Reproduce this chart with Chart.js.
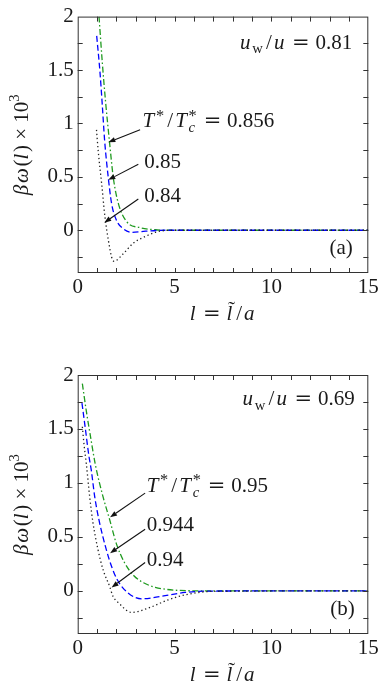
<!DOCTYPE html>
<html>
<head>
<meta charset="utf-8">
<script src="https://cdn.jsdelivr.net/npm/chart.js@4/dist/chart.umd.min.js"></script>
<style>
html,body{margin:0;padding:0;background:#fff;}
#wrap{position:relative;width:382px;height:690px;overflow:hidden;}
canvas{position:absolute;left:0;}
#c1{top:0;}
#c2{top:330px;}
</style>
</head>
<body>
<div id="wrap">
<canvas id="c1" width="382" height="330"></canvas>
<canvas id="c2" width="382" height="360"></canvas>
</div>
<script>
// ---------- data ----------
const xTicks = [0, 5, 10, 15];
const yTicks = [0, 0.5, 1, 1.5, 2];

// panel (a): u_w/u = 0.81
const aRatio = '0.81';
const aLabels = ['0.856', '0.85', '0.84'];
const aX_0856 = [1.1, 1.27, 1.44, 1.64, 1.84, 2.1, 2.53, 3.22, 4.0, 5.0, 15];
const aY_0856 = [2.0, 1.57, 1.2, 0.83, 0.49, 0.25, 0.08, 0.025, 0.005, 0, 0];
const aX_085  = [0.98, 1.15, 1.27, 1.39, 1.58, 1.75, 2.01, 2.35, 2.8, 3.4, 4.5, 15];
const aY_085  = [1.82, 1.48, 1.17, 0.84, 0.49, 0.25, 0.09, 0.015, -0.02, -0.01, 0, 0];
const aX_084  = [0.97, 1.06, 1.24, 1.41, 1.58, 1.75, 1.87, 2.35, 2.87, 3.47, 4.08, 5, 15];
const aY_084  = [0.94, 0.74, 0.43, 0.12, -0.09, -0.25, -0.29, -0.22, -0.12, -0.06, -0.015, 0, 0];

// panel (b): u_w/u = 0.69
const bRatio = '0.69';
const bLabels = ['0.95', '0.944', '0.94'];
const bX_095  = [0.24, 0.45, 0.67, 0.91, 1.31, 1.65, 1.99, 2.42, 2.9, 3.4, 4.0, 5.2, 6.5, 15];
const bY_095  = [1.92, 1.66, 1.42, 1.17, 0.87, 0.66, 0.44, 0.26, 0.14, 0.075, 0.033, 0.004, 0, 0];
const bX_0944 = [0.22, 0.39, 0.57, 0.70, 0.88, 1.13, 1.48, 1.74, 2.05, 2.6, 3.3, 4.34, 5.54, 7, 15];
const bY_0944 = [1.74, 1.51, 1.26, 1.12, 0.87, 0.63, 0.38, 0.23, 0.10, -0.02, -0.074, -0.05, -0.015, -0.002, 0];
const bX_094  = [0.24, 0.33, 0.45, 0.62, 0.79, 1.05, 1.31, 1.65, 1.82, 2.1, 2.79, 3.64, 4.68, 5.54, 7, 15];
const bY_094  = [1.52, 1.35, 1.17, 0.87, 0.63, 0.38, 0.195, 0.04, -0.05, -0.11, -0.2, -0.16, -0.083, -0.037, -0.005, 0];

// ---------- styling ----------
const FAM = '"Liberation Serif", "DejaVu Serif", serif';
const EQFAM = '"DejaVu Serif", serif';
const FS = 21;
const TXT = '#1a1a1a';
const GREEN = '#1f9a1f', BLUE = '#0000ff', BLACK = '#222222';
const STY = [
  {color: GREEN, dash: [6, 2.5, 1.5, 2.5]},
  {color: BLUE,  dash: [6, 3]},
  {color: BLACK, dash: [1.3, 2.7]}
];

function pts(xs, ys) { return xs.map((x, i) => ({x: x, y: ys[i]})); }

// ---------- rich text ----------
function fnt(it, px, fam) { return (it ? 'italic ' : '') + px + 'px ' + (fam || FAM); }
function segW(ctx, s, size) {
  if (s.stack) {
    ctx.font = fnt(true, size * 0.7); const w1 = ctx.measureText(s.stack.sub).width;
    ctx.font = fnt(false, size * 0.78); const w2 = ctx.measureText(s.stack.sup).width;
    return Math.max(w1, w2) + 1;
  }
  const px = (s.sub || s.sup) ? size * (s.t === '*' ? 0.78 : 0.7) : size;
  ctx.font = fnt(s.it, px, s.fam);
  return ctx.measureText(s.t).width + ((s.gap || 0) + (s.pre || 0)) * size;
}
function drawRich(ctx, segs, x, y, align, size) {
  size = size || FS;
  let total = 0;
  segs.forEach(s => total += segW(ctx, s, size));
  let cx = align === 'right' ? x - total : (align === 'center' ? x - total / 2 : x);
  ctx.fillStyle = TXT;
  ctx.textBaseline = 'alphabetic';
  ctx.textAlign = 'left';
  segs.forEach(s => {
    const w = segW(ctx, s, size);
    if (s.stack) {
      ctx.font = fnt(true, size * 0.7);
      ctx.fillText(s.stack.sub, cx, y + size * 0.24);
      ctx.font = fnt(false, size * 0.78);
      ctx.fillText(s.stack.sup, cx, y - size * 0.3);
    } else {
      const px = (s.sub || s.sup) ? size * (s.t === '*' ? 0.78 : 0.7) : size;
      ctx.font = fnt(s.it, px, s.fam);
      let dy = 0;
      if (s.sub) dy = size * 0.22;
      if (s.sup) dy = s.t === '*' ? -size * 0.3 : -size * 0.42;
      ctx.fillText(s.t, cx + (s.pre || 0) * size, y + dy);
      if (s.tilde) {
        ctx.font = fnt(false, size);
        const tw = ctx.measureText('\u02DC').width;
        ctx.fillText('\u02DC', cx + w / 2 - tw / 2 + size * 0.06, y - size * 0.2);
      }
    }
    cx += w;
  });
}

const R = (t) => ({t: t});
const I = (t) => ({t: t, it: true, gap: 0.08});
const EQ = {t: '=', fam: EQFAM, pre: 0.28, gap: 0.28};
const SL = {t: '/', pre: 0.1, gap: 0.1};

const xTitle = [I('l'), EQ, {t: 'l', it: true, tilde: true, gap: 0.08}, SL, I('a')];
const yTitle = [I('\u03B2'), I('\u03C9'), R('('), I('l'), R(') \u00D7 10'), {t: '3', sup: true}];
function tempLabel(v) { return [I('T'), {t: '*', sup: true, gap: 0.05}, SL, I('T'), {stack: {sub: 'c', sup: '*'}}, EQ, R(v)]; }
function ratioLabel(v) { return [I('u'), {t: 'w', sub: true, gap: 0.05}, SL, I('u'), EQ, R(v)]; }

// ---------- plugin: frame, inward ticks, annotations ----------
function panelPlugin(ann) {
  return {
    id: 'panelDeco',
    afterDatasetsDraw(chart) {
      const ctx = chart.ctx, a = chart.chartArea;
      const xs = chart.scales.x, ys = chart.scales.y;
      ctx.save();
      // frame
      ctx.strokeStyle = '#333';
      ctx.lineWidth = 1;
      ctx.setLineDash([]);
      ctx.strokeRect(a.left + 0.5, a.top + 0.5, a.right - a.left - 1, a.bottom - a.top - 1);
      // inward ticks
      const L = 5;
      ctx.beginPath();
      for (let v = 1; v < 15; v += 1) {
        const px = Math.round(xs.getPixelForValue(v)) + 0.5;
        ctx.moveTo(px, a.bottom); ctx.lineTo(px, a.bottom - L);
        ctx.moveTo(px, a.top); ctx.lineTo(px, a.top + L);
      }
      for (let v = -0.25; v < 2; v += 0.25) {
        const py = Math.round(ys.getPixelForValue(v)) + 0.5;
        ctx.moveTo(a.left, py); ctx.lineTo(a.left + L, py);
        ctx.moveTo(a.right, py); ctx.lineTo(a.right - L, py);
      }
      ctx.stroke();
      // arrows
      ctx.strokeStyle = '#111'; ctx.fillStyle = '#111'; ctx.lineWidth = 1.1;
      ann.arrows.forEach(ar => {
        const x1 = xs.getPixelForValue(ar[0]), y1 = ys.getPixelForValue(ar[1]);
        const x2 = xs.getPixelForValue(ar[2]), y2 = ys.getPixelForValue(ar[3]);
        const ang = Math.atan2(y2 - y1, x2 - x1);
        const hl = 7, hw = 2.6;
        const bx = x2 - hl * Math.cos(ang), by = y2 - hl * Math.sin(ang);
        ctx.beginPath(); ctx.moveTo(x1, y1); ctx.lineTo(bx, by); ctx.stroke();
        ctx.beginPath();
        ctx.moveTo(x2, y2);
        ctx.lineTo(bx + hw * Math.sin(ang), by - hw * Math.cos(ang));
        ctx.lineTo(bx - hw * Math.sin(ang), by + hw * Math.cos(ang));
        ctx.closePath(); ctx.fill();
      });
      // texts
      ann.texts.forEach(t => {
        drawRich(ctx, t.segs, xs.getPixelForValue(t.x), ys.getPixelForValue(t.y), t.align);
      });
      // axis titles
      drawRich(ctx, xTitle, (a.left + a.right) / 2, a.bottom + 47, 'center');
      ctx.save();
      ctx.translate(28, (a.top + a.bottom) / 2);
      ctx.rotate(-Math.PI / 2);
      drawRich(ctx, yTitle, 0, 0, 'center');
      ctx.restore();
      ctx.restore();
    }
  };
}

function makePanel(id, series, ann, padTop, xAxisH) {
  const datasets = series.map((s, i) => ({
    label: s.label,
    data: pts(s.x, s.y),
    borderColor: STY[i].color,
    borderDash: STY[i].dash,
    borderWidth: 1.3,
    borderCapStyle: 'butt',
    pointRadius: 0,
    fill: false,
    cubicInterpolationMode: 'monotone',
    order: 3 - i
  }));
  return new Chart(document.getElementById(id), {
    type: 'line',
    data: {datasets: datasets},
    options: {
      responsive: false,
      animation: false,
      devicePixelRatio: 1,
      layout: {padding: {left: 0, top: padTop, right: 13.7, bottom: 0}},
      plugins: {legend: {display: false}, tooltip: {enabled: false}},
      scales: {
        x: {
          type: 'linear', min: 0, max: 15,
          afterBuildTicks: sc => { sc.ticks = xTicks.map(v => ({value: v})); },
          afterFit: sc => { sc.height = xAxisH; },
          grid: {display: false, drawTicks: false},
          border: {display: false},
          ticks: {color: TXT, font: {family: FAM, size: FS}, padding: 2, maxRotation: 0, callback: v => String(v)}
        },
        y: {
          type: 'linear', min: -0.4, max: 2,
          afterBuildTicks: sc => { sc.ticks = yTicks.map(v => ({value: v})); },
          afterFit: sc => { sc.width = 77.7; },
          grid: {display: false, drawTicks: false},
          border: {display: false},
          ticks: {color: TXT, font: {family: FAM, size: FS}, padding: 4, callback: v => String(v)}
        }
      }
    },
    plugins: [panelPlugin(ann)]
  });
}

makePanel('c1', [
  {label: aLabels[0], x: aX_0856, y: aY_0856},
  {label: aLabels[1], x: aX_085, y: aY_085},
  {label: aLabels[2], x: aX_084, y: aY_084}
], {
  arrows: [[3.22, 0.94, 1.58, 0.824], [3.13, 0.617, 1.58, 0.472], [3.13, 0.293, 1.37, 0.071]],
  texts: [
    {segs: tempLabel(aLabels[0]), x: 3.35, y: 0.968, align: 'left'},
    {segs: [R(aLabels[1])], x: 3.44, y: 0.586, align: 'left'},
    {segs: [R(aLabels[2])], x: 3.44, y: 0.262, align: 'left'},
    {segs: ratioLabel(aRatio), x: 14.17, y: 1.70, align: 'right'},
    {segs: [R('(a)')], x: 14.2, y: -0.222, align: 'right'}
  ]
}, 14, 57);

makePanel('c2', [
  {label: bLabels[0], x: bX_095, y: bY_095},
  {label: bLabels[1], x: bX_0944, y: bY_0944},
  {label: bLabels[2], x: bX_094, y: bY_094}
], {
  arrows: [[3.48, 0.905, 1.67, 0.682], [3.48, 0.571, 1.67, 0.349], [3.48, 0.262, 1.75, 0.031]],
  texts: [
    {segs: tempLabel(bLabels[0]), x: 3.56, y: 0.92, align: 'left'},
    {segs: [R(bLabels[1])], x: 3.56, y: 0.556, align: 'left'},
    {segs: [R(bLabels[2])], x: 3.56, y: 0.231, align: 'left'},
    {segs: ratioLabel(bRatio), x: 14.3, y: 1.72, align: 'right'},
    {segs: [R('(b)')], x: 14.3, y: -0.222, align: 'right'}
  ]
}, 45, 56);
</script>
</body>
</html>
